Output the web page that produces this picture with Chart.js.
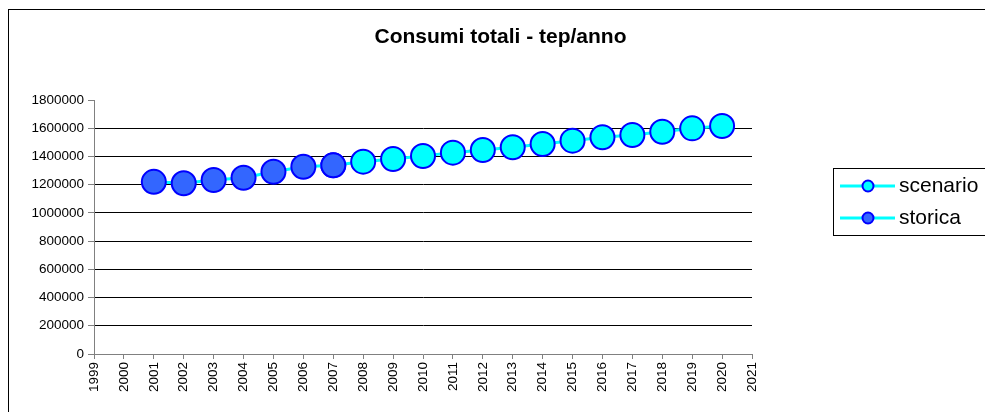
<!DOCTYPE html>
<html>
<head>
<meta charset="utf-8">
<script src="https://cdn.jsdelivr.net/npm/chart.js@4"></script>
<style>
  html, body { margin: 0; padding: 0; background: #fff; overflow: hidden; }
</style>
</head>
<body>
<canvas id="chart" width="985" height="412"></canvas>
<script>
// --- data ---
const storicaYears = [2001, 2002, 2003, 2004, 2005, 2006, 2007];
const storicaValues = [1220000, 1210000, 1233000, 1249000, 1292000, 1327000, 1337000];
// scenario starts at the last historic year so the line joins the two series
const scenarioYears = [2007, 2008, 2009, 2010, 2011, 2012, 2013, 2014, 2015, 2016, 2017, 2018, 2019, 2020];
const scenarioValues = [1337000, 1363000, 1382000, 1403000, 1427000, 1446000, 1465000, 1488000, 1512000, 1536000, 1552000, 1575000, 1599000, 1616000];
const xMin = 1999, xMax = 2021;
const yMin = 0, yMax = 1800000, yStep = 200000;

const titleText = 'Consumi totali - tep/anno';
const FONT = "'Liberation Sans', Arial, sans-serif";

const toPoints = (xs, ys) => xs.map((x, i) => ({ x: x, y: ys[i] }));

// border, title and legend box, drawn like the Excel chart
const decorations = {
    id: 'decorations',
    beforeDraw(chart) {
        const c = chart.ctx;
        c.save();
        c.strokeStyle = '#000';
        c.lineWidth = 1;
        c.strokeRect(8.5, 9.5, 1000, 420);
        c.restore();
    },
    afterDraw(chart) {
        const c = chart.ctx;
        c.save();
        c.fillStyle = '#000';
        c.font = 'bold 21px ' + FONT;
        c.textAlign = 'center';
        c.textBaseline = 'middle';
        c.fillText(titleText, 500.5, 37);

        // legend
        c.strokeStyle = '#000';
        c.lineWidth = 1;
        c.strokeRect(833.5, 168.5, 200, 67);
        const rows = [chart.data.datasets[0], chart.data.datasets[1]];
        rows.forEach((ds, i) => {
            const y = 186 + i * 32;
            c.strokeStyle = ds.borderColor;
            c.lineWidth = 3;
            c.beginPath();
            c.moveTo(840, y);
            c.lineTo(895, y);
            c.stroke();
            c.beginPath();
            c.arc(868, y, 5.5, 0, Math.PI * 2);
            c.fillStyle = ds.pointBackgroundColor;
            c.fill();
            c.lineWidth = 2;
            c.strokeStyle = ds.pointBorderColor;
            c.stroke();
            c.fillStyle = '#000';
            c.font = '21px ' + FONT;
            c.textAlign = 'left';
            c.textBaseline = 'middle';
            c.fillText(ds.label, 899, y);
        });
        c.restore();
    }
};

new Chart(document.getElementById('chart'), {
    type: 'line',
    data: {
        datasets: [
            {
                label: 'scenario',
                data: toPoints(scenarioYears, scenarioValues),
                borderColor: '#00FFFF', borderWidth: 3,
                pointBackgroundColor: '#00FFFF', pointBorderColor: '#0000FF',
                pointBorderWidth: 2, pointRadius: 12,
                order: 1
            },
            {
                label: 'storica',
                data: toPoints(storicaYears, storicaValues),
                borderColor: '#00FFFF', borderWidth: 3,
                pointBackgroundColor: '#3366FF', pointBorderColor: '#0000FF',
                pointBorderWidth: 2, pointRadius: 12,
                order: 0
            }
        ]
    },
    options: {
        responsive: false,
        animation: false,
        devicePixelRatio: 1,
        layout: { padding: { top: 100, left: 0, right: 233, bottom: 0 } },
        plugins: { legend: { display: false }, title: { display: false }, tooltip: { enabled: false } },
        scales: {
            x: {
                type: 'linear', min: xMin, max: xMax,
                afterFit: (s) => { s.height = 58; },
                grid: { drawOnChartArea: false, tickLength: 5, tickColor: '#808080' },
                border: { color: '#808080', width: 1 },
                ticks: {
                    stepSize: 1, autoSkip: false, minRotation: 90, maxRotation: 90,
                    padding: 3, color: '#000', font: { family: FONT, size: 13.5 },
                    callback: (v) => String(v)
                }
            },
            y: {
                min: yMin, max: yMax,
                afterFit: (s) => { s.width = 94; },
                grid: {
                    color: (ctx) => (ctx.tick && (ctx.tick.value === yMax || ctx.tick.value === yMin)) ? 'rgba(0,0,0,0)' : '#000',
                    tickLength: 6, tickColor: '#808080'
                },
                border: { color: '#808080', width: 1 },
                ticks: {
                    stepSize: yStep, padding: 4, color: '#000',
                    font: { family: FONT, size: 13.5 },
                    callback: (v) => String(v)
                }
            }
        }
    },
    plugins: [decorations]
});
</script>
</body>
</html>
